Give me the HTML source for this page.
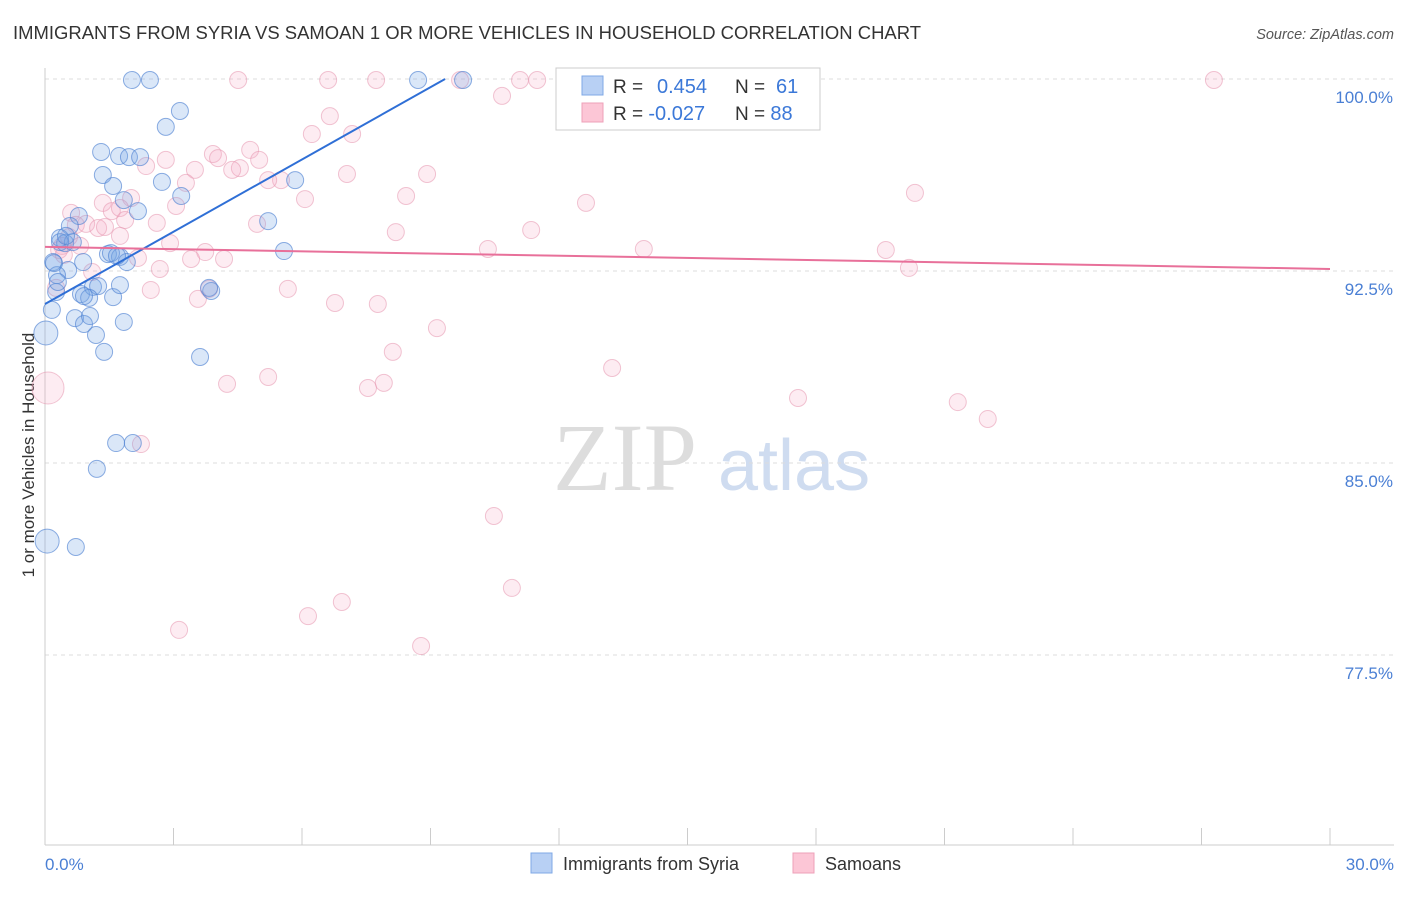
<!DOCTYPE html>
<html><head><meta charset="utf-8"><style>
body{margin:0;background:#fff;font-family:"Liberation Sans",sans-serif}
svg text{font-family:"Liberation Sans",sans-serif}
</style></head><body>
<svg id="c" width="1406" height="892" viewBox="0 0 1406 892">
<text x="13" y="39" font-size="18" fill="#333" textLength="908" lengthAdjust="spacingAndGlyphs">IMMIGRANTS FROM SYRIA VS SAMOAN 1 OR MORE VEHICLES IN HOUSEHOLD CORRELATION CHART</text>
<text x="1394" y="39" font-size="14.5" fill="#555" font-style="italic" text-anchor="end">Source: ZipAtlas.com</text>
<text transform="translate(34,455) rotate(-90)" font-size="17" fill="#333" text-anchor="middle">1 or more Vehicles in Household</text>
<g><text x="553" y="490" font-size="96" fill="#ddd" style="font-family:'Liberation Serif',serif">ZIP</text><text x="718" y="490" font-size="72" fill="#cfdcf0">atlas</text></g>
<g id="grid"></g><g id="marks"></g><g id="trend"></g>
<g>
<rect x="556" y="68" width="264" height="62" fill="#fff" stroke="#ccc"/>
<rect x="582" y="76" width="21" height="19" fill="#b8d0f4" stroke="#7fa8e6"/>
<rect x="582" y="103" width="21" height="19" fill="#fcc6d6" stroke="#eea0b8"/>
<text x="613" y="93" font-size="19" fill="#333">R = <tspan x="657" fill="#3b78d8" font-size="20">0.454</tspan></text>
<text x="735" y="93" font-size="19" fill="#333">N = <tspan x="776" fill="#3b78d8" font-size="20">61</tspan></text>
<text x="613" y="120" font-size="19" fill="#333">R = <tspan fill="#3b78d8" font-size="20">-0.027</tspan></text>
<text x="735" y="120" font-size="19" fill="#333">N = <tspan fill="#3b78d8" font-size="20">88</tspan></text>
</g>
<g>
<rect x="531" y="853" width="21" height="20" fill="#b8d0f4" stroke="#7fa8e6"/>
<text x="563" y="870" font-size="18" fill="#333">Immigrants from Syria</text>
<rect x="793" y="853" width="21" height="20" fill="#fcc6d6" stroke="#eea0b8"/>
<text x="825" y="870" font-size="18" fill="#333">Samoans</text>
</g>
</svg>
<script>
const yTicks=[100,92.5,85,77.5];
const yTickLabels=["100.0%","92.5%","85.0%","77.5%"];
const xTickVals=[0,3,6,9,12,15,18,21,24,27,30];
const xEndLabels=["0.0%","30.0%"];
const syriaX=[2.03,2.45,8.71,9.76,2.82,3.15,1.31,1.73,1.96,2.22,1.35,1.59,2.73,3.18,5.84,1.84,2.17,5.21,0.79,0.58,0.35,0.47,0.65,0.19,0.54,0.89,1.47,1.75,1.91,5.58,0.28,0.26,0.84,1.12,1.24,1.59,1.03,3.88,0.16,0.70,0.91,1.05,1.84,1.19,1.38,3.62,0.02,1.66,2.05,1.21,0.05,0.72,0.35,0.49,3.83,1.75,1.54,1.68,0.21,0.30,0.91];
const syriaY=[99.96,99.96,99.96,99.96,98.13,98.75,97.15,96.99,96.95,96.95,96.25,95.82,95.98,95.43,96.05,95.27,94.84,94.45,94.65,94.26,93.79,93.59,93.63,92.85,92.54,92.85,93.16,93.05,92.85,93.28,92.34,91.68,91.60,91.88,91.91,91.48,91.45,91.72,90.98,90.66,90.43,90.74,90.51,90.00,89.34,89.14,90.08,85.78,85.78,84.77,81.95,81.72,93.63,93.87,91.84,91.95,93.20,93.09,92.81,92.07,91.52];
const syriaBig=[46,50];
const samoaX=[4.51,6.61,7.73,9.69,11.09,11.49,12.33,14.94,27.29,10.67,6.65,6.23,7.17,2.82,3.92,4.04,4.79,5.00,4.55,4.37,3.50,2.36,7.05,5.51,3.29,8.92,8.43,6.07,20.31,12.63,1.35,2.01,1.56,1.75,0.61,0.72,0.96,1.24,1.87,2.61,3.06,4.95,8.19,11.35,10.34,13.98,19.63,2.92,3.74,4.18,3.41,2.17,0.33,0.40,1.10,2.68,0.26,2.47,3.83,5.67,3.57,6.77,7.77,9.15,8.12,13.24,5.21,4.25,7.54,7.91,17.58,21.31,22.01,2.24,20.17,10.48,10.90,6.93,6.14,3.13,8.78,0.07,1.40,1.75,0.44,0.56,0.82,5.21];
const samoaY=[99.96,99.96,99.96,99.96,99.96,99.96,99.96,99.96,99.96,99.34,98.55,97.85,97.85,96.84,97.07,96.91,97.23,96.84,96.52,96.45,96.45,96.60,96.29,96.05,95.94,96.29,95.43,95.31,95.55,95.16,95.16,95.35,94.84,94.96,94.77,94.30,94.34,94.18,94.49,94.38,95.04,94.34,94.02,94.10,93.36,93.36,93.32,93.59,93.24,92.97,92.97,93.01,93.32,93.48,92.46,92.58,91.84,91.76,91.80,91.80,91.41,91.25,91.21,90.27,89.34,88.71,88.36,88.09,87.93,88.13,87.54,87.38,86.72,85.74,92.62,82.93,80.12,79.57,79.02,78.48,77.85,87.93,94.22,93.87,93.13,93.83,93.48,96.05];
const samoaBig=[81];
const syriaTrend=[[0,91.21],[9.34,100]];
const samoaTrend=[[0,93.44],[30,92.58]];
const NS="http://www.w3.org/2000/svg";
const X=v=>45+v/30*1285;
const Y=v=>79+(100-v)/7.5*192;
function mk(t,a,p){const e=document.createElementNS(NS,t);for(const k in a)e.setAttribute(k,a[k]);p.appendChild(e);return e;}
const grid=document.getElementById('grid'),marks=document.getElementById('marks'),trend=document.getElementById('trend');
yTicks.forEach((v,i)=>{
 const l=mk('line',{x1:45,x2:1394,y1:Y(v),y2:Y(v),stroke:'#ddd','stroke-dasharray':'4,4'},grid);
 
 
 const t=mk('text',{x:1393,y:Y(v)+24,'font-size':17,fill:'#4a7fd4','text-anchor':'end'},grid);
 t.textContent=yTickLabels[i];
 
 
});
const ax=mk('line',{x1:45,x2:45,y1:68,y2:845,stroke:'#ccc'},grid);


const bx=mk('line',{x1:45,x2:1394,y1:845,y2:845,stroke:'#ccc'},grid);


xTickVals.forEach(v=>{
 const l=mk('line',{x1:X(v),x2:X(v),y1:828,y2:845,stroke:'#ccc'},grid);
 
 
});
[[0,'start',45],[30,'end',1394]].forEach((d,i)=>{
 const t=mk('text',{x:d[2],y:870,'font-size':17,fill:'#4a7fd4','text-anchor':d[1]},grid);
 t.textContent=xEndLabels[i];
 
 
});
samoaX.forEach((v,i)=>{
 const c=mk('circle',{cx:X(v),cy:Y(samoaY[i]),r:samoaBig.includes(i)?16:8.5,fill:'rgba(245,170,195,0.22)',stroke:'rgba(230,150,175,0.55)','stroke-width':1},marks);
 
 
});
syriaX.forEach((v,i)=>{
 const c=mk('circle',{cx:X(v),cy:Y(syriaY[i]),r:syriaBig.includes(i)?12:8.5,fill:'rgba(120,165,230,0.27)',stroke:'rgba(80,130,210,0.65)','stroke-width':1},marks);
 
 
});
const t1=mk('line',{x1:X(syriaTrend[0][0]),y1:Y(syriaTrend[0][1]),x2:X(syriaTrend[1][0]),y2:Y(syriaTrend[1][1]),stroke:'#2f6fd6','stroke-width':2},trend);


const t2=mk('line',{x1:X(samoaTrend[0][0]),y1:Y(samoaTrend[0][1]),x2:X(samoaTrend[1][0]),y2:Y(samoaTrend[1][1]),stroke:'#e8709a','stroke-width':2},trend);


</script>
</body></html>
